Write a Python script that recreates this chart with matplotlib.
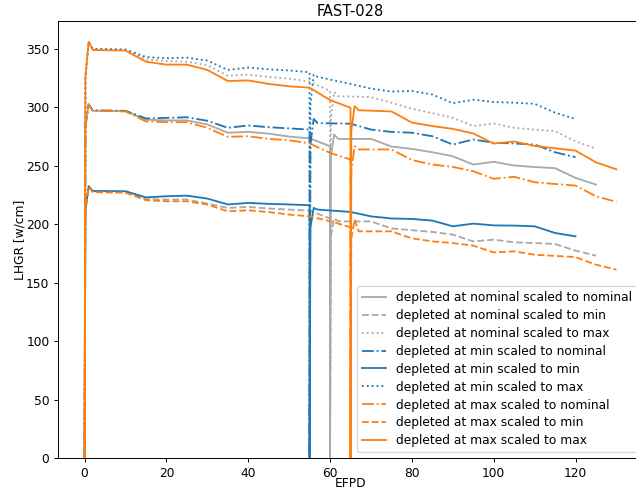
import numpy as np
import matplotlib
matplotlib.use('Agg')
import matplotlib.pyplot as plt

# EFPD steps inside one irradiation cycle (offset from cycle start)
CYCLE_STEPS = [0, 0.2, 1, 2, 10, 15, 20, 25, 30, 35, 40, 45, 50, 55, 60, 65]

# length of the first cycle for each depletion case
CYCLE1_END = {'nominal': 60, 'min': 55, 'max': 65}

# LHGR [w/cm], first and second cycle
nom_nom_c1 = [0, 284, 302.5, 297, 296.8, 289.5, 288.8, 288.8, 285.4, 278.3, 279.1, 277.5, 275, 273.5, 266.8]
nom_nom_c2 = [0, 258, 276.8, 273, 273, 266.5, 264.5, 261.6, 258.2, 251.1, 253.4, 250.3, 249, 248, 239.7, 234]
nom_min_c1 = [0, 212, 232.5, 228, 227.5, 221.5, 221.2, 221.2, 217.7, 214, 214.9, 213.5, 212.6, 211.7, 205]
nom_min_c2 = [0, 190, 205, 202.5, 202.5, 196.5, 195, 193.5, 191.2, 185.4, 186.9, 184.6, 184, 183.2, 177.5, 173.2]
nom_max_c1 = [0, 326, 356, 349.5, 349, 341, 339.5, 339, 336, 327, 328, 326, 324.5, 322, 314]
nom_max_c2 = [0, 290, 313, 309.6, 308.7, 304, 298.8, 295, 291, 284, 286.2, 282.5, 281, 279.6, 271, 264.6]

min_nom_c1 = [0, 284, 302.5, 297.5, 297, 290.5, 291, 291.5, 288.5, 282.5, 284.5, 283, 282, 281]
min_nom_c2 = [0, 268, 290, 286.5, 286, 281, 279, 278.3, 275.3, 268.2, 272.5, 269.7, 269.1, 268.2, 261.6, 257.4]
min_min_c1 = [0, 212, 232.5, 228.5, 228.3, 223, 224, 224.5, 222, 217, 218.3, 217.5, 217, 216.3]
min_min_c2 = [0, 197, 214, 212.6, 210.6, 206.8, 205, 204.6, 203.2, 198.3, 200.6, 199.1, 198.9, 198.3, 192.6, 189.7]
min_max_c1 = [0, 326, 356, 350, 349.5, 343, 342, 342.5, 340, 332, 334, 332.5, 331.5, 330]
min_max_c2 = [0, 302, 328, 326, 320, 316, 313.5, 314, 311, 303.5, 306.5, 304.5, 304, 303, 295.5, 290]

max_nom_c1 = [0, 284, 302.5, 297, 296.5, 288, 287.3, 287.3, 282.5, 274.8, 275.3, 273, 271.9, 269.1, 261.1, 255.4]
max_nom_c2 = [0, 246, 266.8, 264, 264, 255, 251.1, 249.1, 245.4, 238.9, 240.6, 236, 234.5, 233.1, 224, 219.2]
max_min_c1 = [0, 212, 232, 227.5, 227, 220.6, 219.7, 219.7, 216.9, 211.1, 212, 210.5, 208.3, 206.8, 202.6, 197.5]
max_min_c2 = [0, 188, 204, 194, 194, 188, 185.4, 184, 181.8, 176, 176.9, 174, 173, 172, 165.5, 161.2]
max_max_c1 = [0, 326, 356, 349, 348.5, 339, 336.5, 336.5, 332, 322.5, 323, 320, 318, 316.8, 306.2, 299.7]
max_max_c2 = [0, 280, 301, 297.5, 296.5, 287, 284, 281.6, 277.7, 269, 270.8, 267, 265, 263, 253, 247]

SERIES = [
    ('nominal', 'nominal', nom_nom_c1, nom_nom_c2, 'darkgray', '-'),
    ('nominal', 'min', nom_min_c1, nom_min_c2, 'darkgray', '--'),
    ('nominal', 'max', nom_max_c1, nom_max_c2, 'darkgray', ':'),
    ('min', 'nominal', min_nom_c1, min_nom_c2, 'tab:blue', '-.'),
    ('min', 'min', min_min_c1, min_min_c2, 'tab:blue', '-'),
    ('min', 'max', min_max_c1, min_max_c2, 'tab:blue', ':'),
    ('max', 'nominal', max_nom_c1, max_nom_c2, 'tab:orange', '-.'),
    ('max', 'min', max_min_c1, max_min_c2, 'tab:orange', '--'),
    ('max', 'max', max_max_c1, max_max_c2, 'tab:orange', '-'),
]


def efpd_axis(depl, n1, n2):
    steps = np.array(CYCLE_STEPS)
    end = CYCLE1_END[depl]
    return np.concatenate([steps[:n1], end + steps[:n2]])


DPI = 88
fig = plt.figure(figsize=(636 / DPI, 493 / DPI), dpi=DPI)
ax = fig.add_axes([58 / 636, 34.7 / 493, 585 / 636, 437.3 / 493])

for depl, scale, c1, c2, color, ls in SERIES:
    x = efpd_axis(depl, len(c1), len(c2))
    y = np.concatenate([c1, c2])
    ax.plot(x, y, color=color, linestyle=ls,
            label=f'depleted at {depl} scaled to {scale}')

ax.set_ylim(bottom=0)
ax.set_title('FAST-028', pad=4.5)
ax.set_xlabel('EFPD', labelpad=-2)
ax.set_ylabel('LHGR [w/cm]', labelpad=0)
ax.legend(loc='lower right', labelspacing=0.4)

fig.savefig('out.png', dpi=DPI)
